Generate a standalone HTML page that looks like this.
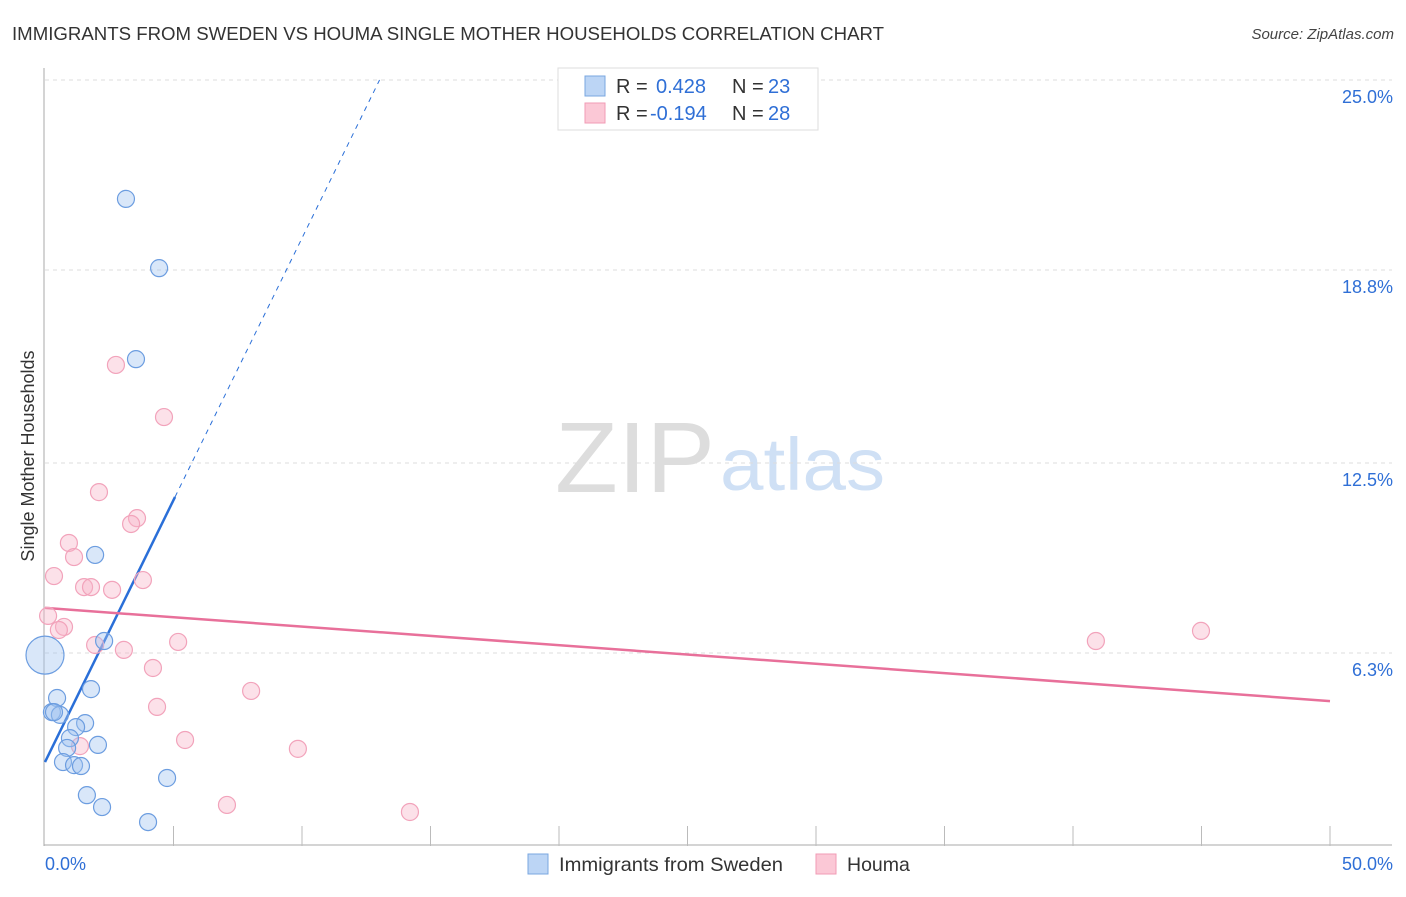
<!DOCTYPE html>
<html><head><meta charset="utf-8"><style>
body{margin:0;background:#fff;font-family:"Liberation Sans",sans-serif}
svg text{font-family:"Liberation Sans",sans-serif}
</style></head><body>
<svg id="chart" width="1406" height="892" viewBox="0 0 1406 892" xmlns="http://www.w3.org/2000/svg">
<text x="12" y="40" font-size="18" fill="#333" textLength="872" lengthAdjust="spacingAndGlyphs">IMMIGRANTS FROM SWEDEN VS HOUMA SINGLE MOTHER HOUSEHOLDS CORRELATION CHART</text>
<text x="1394" y="39" font-size="15" fill="#444" font-style="italic" text-anchor="end">Source: ZipAtlas.com</text>
<g>
<text x="555" y="492" font-size="100" fill="#ddd" font-family="Liberation Serif,serif" textLength="160" lengthAdjust="spacingAndGlyphs">ZIP</text>
<text x="720" y="490" font-size="74" fill="#cfe0f5" textLength="165" lengthAdjust="spacingAndGlyphs">atlas</text>
</g>
<g id="grid"></g>
<g id="axes"></g>
<g id="trend"></g>
<g id="points"></g>
<text transform="translate(34,456) rotate(-90)" font-size="18" fill="#333" text-anchor="middle">Single Mother Households</text>
<g>
<rect x="558" y="68" width="260" height="62" fill="#fff" stroke="#ddd"/>
<rect x="585" y="76" width="20" height="20" fill="#bcd5f5" stroke="#7aa7e0"/>
<rect x="585" y="103" width="20" height="20" fill="#fbc8d6" stroke="#f19bb5"/>
<text x="616" y="93" font-size="20" fill="#333">R =</text>
<text x="656" y="93" font-size="20" fill="#2f6fd6">0.428</text>
<text x="732" y="93" font-size="20" fill="#333">N =</text>
<text x="768" y="93" font-size="20" fill="#2f6fd6">23</text>
<text x="616" y="120" font-size="20" fill="#333">R =</text>
<text x="650" y="120" font-size="20" fill="#2f6fd6">-0.194</text>
<text x="732" y="120" font-size="20" fill="#333">N =</text>
<text x="768" y="120" font-size="20" fill="#2f6fd6">28</text>
</g>
<g>
<rect x="528" y="854" width="20" height="20" fill="#bcd5f5" stroke="#7aa7e0"/>
<text x="559" y="871" font-size="19.5" fill="#333" textLength="224" lengthAdjust="spacingAndGlyphs">Immigrants from Sweden</text>
<rect x="816" y="854" width="20" height="20" fill="#fbc8d6" stroke="#f19bb5"/>
<text x="847" y="871" font-size="19.5" fill="#333">Houma</text>
</g>
</svg>
<script>
const yTicks=[25.0,18.8,12.5,6.3];
const yTickLabels=["25.0%","18.8%","12.5%","6.3%"];
const xTickLabels=["0.0%","50.0%"];
const swedenX=[3.15,4.44,3.54,1.95,2.30,0,1.79,0.47,0.27,0.58,1.56,1.21,0.97,2.06,0.86,0.70,1.13,1.40,4.75,1.63,2.22,4.01,0.35];
const swedenY=[21.12,18.86,15.89,9.50,6.69,6.23,5.12,4.83,4.37,4.28,4.01,3.88,3.52,3.30,3.20,2.74,2.64,2.61,2.22,1.66,1.27,0.78,4.37];
const swedenR=[8.5,8.5,8.5,8.5,8.5,19,8.5,8.5,8.5,8.5,8.5,8.5,8.5,8.5,8.5,8.5,8.5,8.5,8.5,8.5,8.5,8.5,8.5];
const houmaX=[2.76,4.63,2.10,3.58,3.35,0.93,1.13,0.35,3.81,1.52,1.79,2.61,0.12,0.74,0.54,5.18,1.95,3.07,4.20,8.02,4.36,5.45,1.36,9.84,7.08,14.20,40.89,44.98];
const houmaY=[15.70,14.00,11.55,10.70,10.51,9.89,9.43,8.81,8.68,8.45,8.45,8.36,7.51,7.15,7.05,6.66,6.56,6.40,5.81,5.06,4.54,3.46,3.26,3.17,1.34,1.11,6.69,7.02];
const swedenTrend=[2.74,1.71];
const houmaTrend=[7.77,-0.0608];
const X0=45,X1=1330,Y0=846,PPY=30.64;
const sx=v=>X0+(X1-X0)*v/50, sy=v=>Y0-v*PPY;
const NS="http://www.w3.org/2000/svg";
function mk(parent,tag,attrs){const e=document.createElementNS(NS,tag);for(const k in attrs)e.setAttribute(k,attrs[k]);document.getElementById(parent).appendChild(e);return e;}
yTicks.forEach((t,i)=>{
 const l=mk('grid','line',{x1:X0,x2:1392,y1:sy(t),y2:sy(t),stroke:'#ddd','stroke-dasharray':'4,4'});
 
 
 const tx=mk('grid','text',{x:1393,y:sy(t)+23,'font-size':18,fill:'#2f6fd6','text-anchor':'end'});
 tx.textContent=yTickLabels[i];
 
 
});
let a=mk('axes','line',{x1:X0-1,x2:X0-1,y1:68,y2:Y0,stroke:'#aaa'});


a=mk('axes','line',{x1:X0-1,x2:1392,y1:Y0-1,y2:Y0-1,stroke:'#aaa'});


for(let v=5;v<=50;v+=5){
 const t=mk('axes','line',{x1:sx(v),x2:sx(v),y1:826,y2:Y0,stroke:'#bbb'});
 
 
}
let xl=mk('axes','text',{x:X0,y:870,'font-size':18,fill:'#2f6fd6'});xl.textContent=xTickLabels[0];


xl=mk('axes','text',{x:1393,y:870,'font-size':18,fill:'#2f6fd6','text-anchor':'end'});xl.textContent=xTickLabels[1];


houmaX.forEach((x,i)=>{
 const c=mk('points','circle',{cx:sx(x),cy:sy(houmaY[i]),r:8.5,fill:'rgba(248,180,200,0.4)',stroke:'#f2a3bb','stroke-width':1.2});
 
 
});
swedenX.forEach((x,i)=>{
 const c=mk('points','circle',{cx:sx(x),cy:sy(swedenY[i]),r:swedenR[i],fill:'rgba(160,196,240,0.4)',stroke:'#6c9de0','stroke-width':1.2});
 
 
});
const bEnd=5.06, bTop=(25-swedenTrend[0])/swedenTrend[1];
let t=mk('trend','line',{x1:sx(0),y1:sy(swedenTrend[0]),x2:sx(bEnd),y2:sy(swedenTrend[0]+swedenTrend[1]*bEnd),stroke:'#2a6fd8','stroke-width':2.5});


t=mk('trend','line',{x1:sx(bEnd),y1:sy(swedenTrend[0]+swedenTrend[1]*bEnd),x2:sx(bTop),y2:sy(25),stroke:'#2a6fd8','stroke-width':1,'stroke-dasharray':'5,5'});


t=mk('trend','line',{x1:sx(0),y1:sy(houmaTrend[0]),x2:sx(50),y2:sy(houmaTrend[0]+houmaTrend[1]*50),stroke:'#e8709a','stroke-width':2.5});


</script>
</body></html>
